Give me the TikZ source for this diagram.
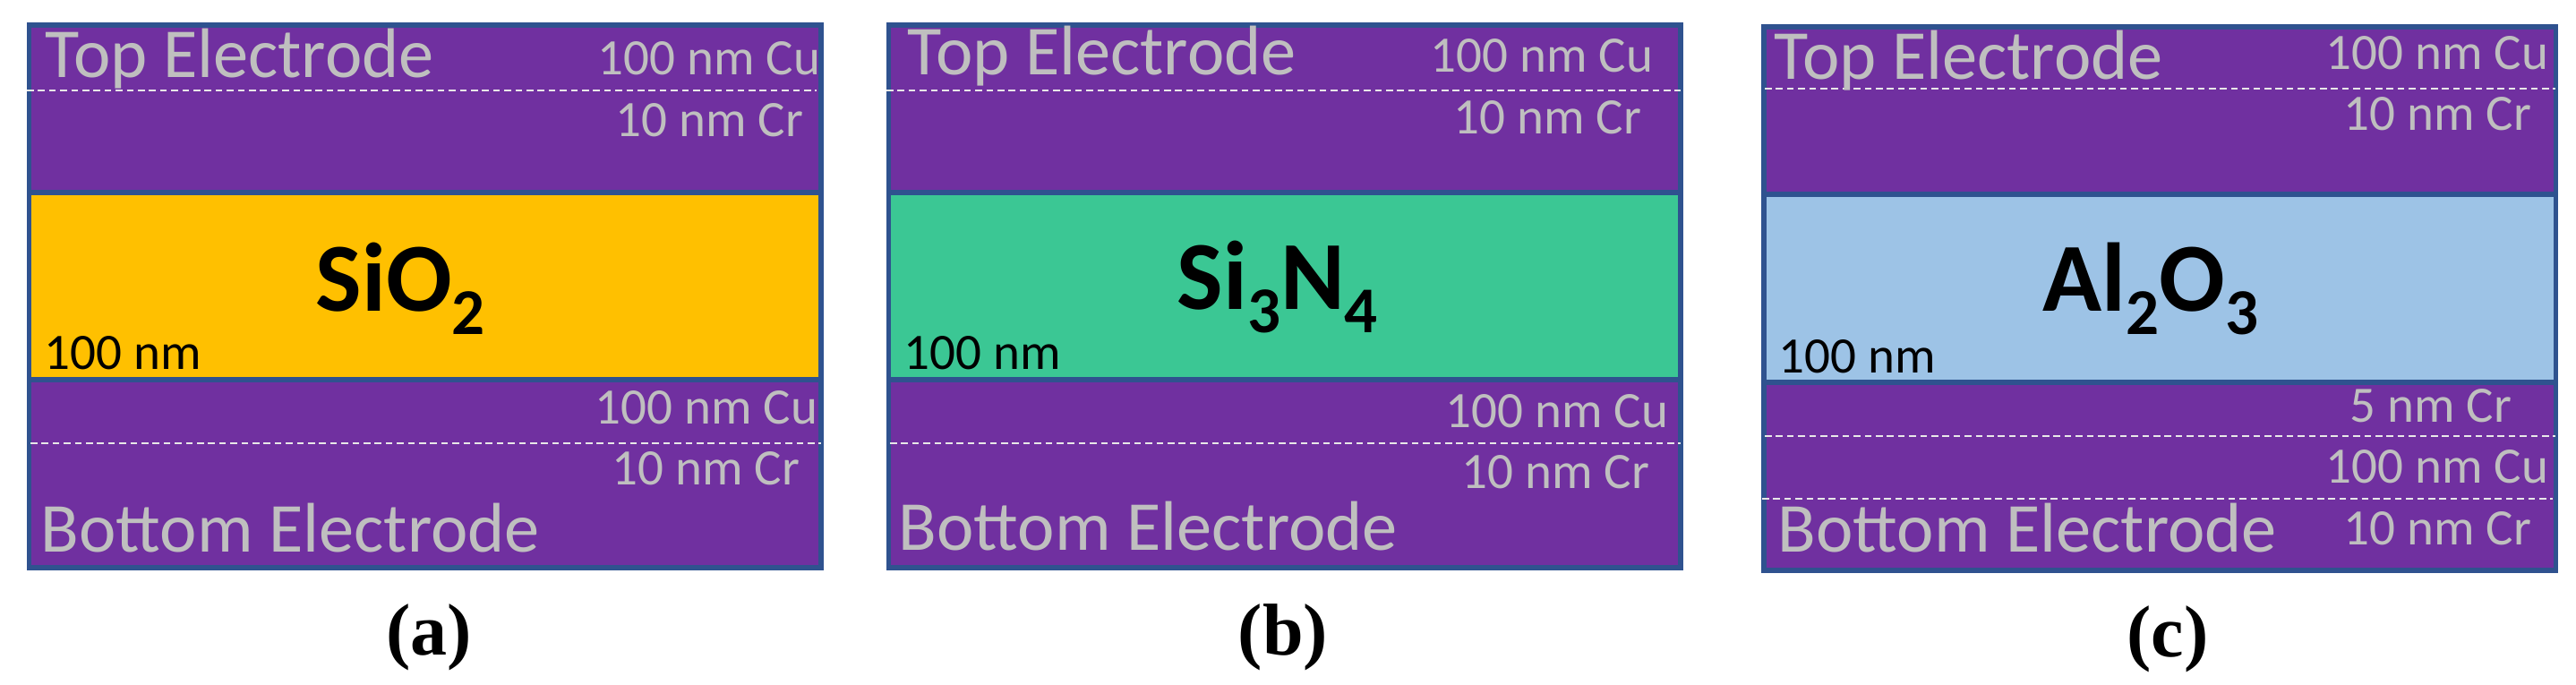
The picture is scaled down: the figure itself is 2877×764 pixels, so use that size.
\documentclass[tikz,border=0pt]{standalone}
\usepackage{fontspec}
\setmainfont{Carlito}
\newfontfamily\capfont{Liberation Serif}
\definecolor{elpurple}{HTML}{7030A0}
\definecolor{edgeblue}{HTML}{2F528F}
\definecolor{oxyellow}{HTML}{FFC000}
\definecolor{nitgreen}{HTML}{3BC794}
\definecolor{alublue}{HTML}{9DC3E6}
\definecolor{lbl}{HTML}{BFBFBF}
\definecolor{dashgray}{HTML}{E8E8E8}
\newcommand{\chemsub}[1]{\raisebox{-6.5pt}{\fontsize{18.25}{18.25}\selectfont #1}}
\begin{document}
\begin{tikzpicture}[x=0.25pt,y=-0.25pt,
  stack/.style={draw=edgeblue, line width=1.4pt, fill=elpurple},
  diel/.style={draw=edgeblue, line width=1.4pt},
  sep/.style={draw=dashgray, line width=0.7pt, dash pattern=on 1.9pt off 1.2pt},
  biglbl/.style={font=\fontsize{19.6}{19.6}\selectfont, text=lbl, inner sep=0pt, anchor=base west},
  smalllbl/.style={font=\fontsize{14.25}{14.25}\selectfont, text=lbl, inner sep=0pt, anchor=base west},
  thick/.style={font=\fontsize{14.25}{14.25}\selectfont, text=black, inner sep=0pt, anchor=base west},
  formula/.style={font=\bfseries\fontsize{27.25}{27.25}\selectfont, text=black, inner sep=0pt, anchor=base west},
  caption/.style={font=\capfont\bfseries\fontsize{20.5}{20.5}\selectfont, text=black, inner sep=0pt, anchor=base}]
\useasboundingbox (0,0) rectangle (2877,764);

% ---------- panel (a) ----------
\draw[stack] (32.5,28) rectangle (917,634);
\draw[diel, fill=oxyellow] (32.5,215) rectangle (917,424);
\draw[sep] (30,101) -- (912,101);
\draw[sep] (34,495) -- (917,495);
\node[biglbl] (aTop) at (50,86) {Top Electrode};
\node[smalllbl] (aCuT) at (667,83) {100 nm Cu};
\node[smalllbl] (aCrT) at (687,152) {10 nm Cr};
\node[formula] (aF) at (352,347) {SiO\chemsub{2}};
\node[thick] (aT) at (49,412) {100 nm};
\node[smalllbl] (aCuB) at (664,473) {100 nm Cu};
\node[smalllbl] (aCrB) at (683,541) {10 nm Cr};
\node[biglbl] (aBot) at (45,616) {Bottom Electrode};
\node[caption] (aCap) at (479,731) {(a)};

% ---------- panel (b) ----------
\draw[stack] (992.5,28) rectangle (1877,634);
\draw[diel, fill=nitgreen] (992.5,215) rectangle (1877,424);
\draw[sep] (990,101) -- (1877,101);
\draw[sep] (994,495) -- (1877,495);
\node[biglbl] (bTop) at (1013,83) {Top Electrode};
\node[smalllbl] (bCuT) at (1597,80) {100 nm Cu};
\node[smalllbl] (bCrT) at (1623,149) {10 nm Cr};
\node[formula] (bF) at (1314,345) {Si\chemsub{3}N\chemsub{4}};
\node[thick] (bT) at (1009,412) {100 nm};
\node[smalllbl] (bCuB) at (1614,477) {100 nm Cu};
\node[smalllbl] (bCrB) at (1632,545) {10 nm Cr};
\node[biglbl] (bBot) at (1003,614) {Bottom Electrode};
\node[caption] (bCap) at (1433,731) {(b)};

% ---------- panel (c) ----------
\draw[stack] (1970,30) rectangle (2854.5,637);
\draw[diel, fill=alublue] (1970,217) rectangle (2854.5,427);
\draw[sep] (1971,99) -- (2854,99);
\draw[sep] (1971,487) -- (2854,487);
\draw[sep] (1968,557) -- (2851,557);
\node[biglbl] (cTop) at (1981,88) {Top Electrode};
\node[smalllbl] (cCuT) at (2597,77) {100 nm Cu};
\node[smalllbl] (cCrT) at (2617,145) {10 nm Cr};
\node[formula] (cF) at (2281,347) {Al\chemsub{2}O\chemsub{3}};
\node[thick] (cT) at (1986,416) {100 nm};
\node[smalllbl] (cCrM) at (2624,471) {5 nm Cr};
\node[smalllbl] (cCuB) at (2597,539) {100 nm Cu};
\node[smalllbl] (cCrB) at (2617,608) {10 nm Cr};
\node[biglbl] (cBot) at (1985,616) {Bottom Electrode};
\node[caption] (cCap) at (2421,733) {(c)};
\end{tikzpicture}
\end{document}
